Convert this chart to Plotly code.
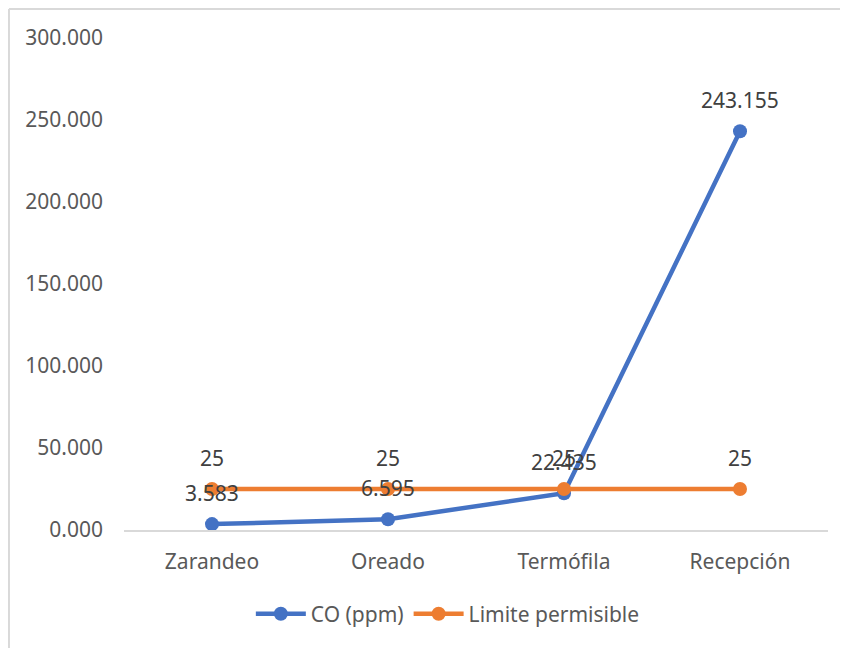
import plotly.graph_objects as go

# categories and series
etapas = ["Zarandeo", "Oreado", "Termófila", "Recepción"]
co_ppm = [3.583, 6.595, 22.435, 243.155]
limite = [25, 25, 25, 25]
y_ticks = [0, 50, 100, 150, 200, 250, 300]
y_tick_text = ["0.000", "50.000", "100.000", "150.000", "200.000", "250.000", "300.000"]

BLUE = "#4472C4"
ORANGE = "#ED7D31"
GREY_TXT = "#595959"
FONT = "Noto Sans"

fig = go.Figure()
fig.add_trace(go.Scatter(x=etapas, y=co_ppm, name="CO (ppm)", mode="lines+markers",
                         line=dict(color=BLUE, width=4.5), marker=dict(size=14, color=BLUE)))
fig.add_trace(go.Scatter(x=etapas, y=limite, name="Limite permisible", mode="lines+markers",
                         line=dict(color=ORANGE, width=4.5), marker=dict(size=14, color=ORANGE)))

# data labels above each point (Excel style)
for xs, ys, fmt in [(etapas, limite, "{:.0f}"), (etapas, co_ppm, "{:.3f}")]:
    for xv, yv in zip(xs, ys):
        fig.add_annotation(x=xv, y=yv, text=fmt.format(yv), showarrow=False, yshift=31,
                           font=dict(family=FONT, size=21, color="#404040"))

# chart border: only the top and left edges fall inside the frame
border = dict(color="#D9D9D9", width=2)
fig.add_shape(type="line", xref="paper", yref="paper", x0=-0.1634, y0=1.059, x1=1.1, y1=1.059, line=border)
fig.add_shape(type="line", xref="paper", yref="paper", x0=-0.1634, y0=1.059, x1=-0.1634, y1=-0.3, line=border)

# page body has an 8px margin, so the figure is shifted by that much
fig.update_layout(
    width=840, height=640,
    margin=dict(l=116, r=20, t=30, b=118),
    paper_bgcolor="white", plot_bgcolor="white",
    font=dict(family=FONT, size=21, color=GREY_TXT),
    showlegend=True,
    legend=dict(orientation="h", x=0.46, xanchor="center", y=-0.171, yanchor="middle",
                font=dict(size=21, color=GREY_TXT), itemwidth=50),
    xaxis=dict(range=[-0.5, 3.5], showgrid=False, showline=True, linecolor="#D9D9D9", linewidth=2,
               ticks="", zeroline=False, ticklabelstandoff=12),
    yaxis=dict(range=[0, 300], tickvals=y_ticks, ticktext=y_tick_text, showgrid=False,
               showline=False, zeroline=False, ticks="", ticklabelstandoff=20),
)

fig.write_html("out.html")
